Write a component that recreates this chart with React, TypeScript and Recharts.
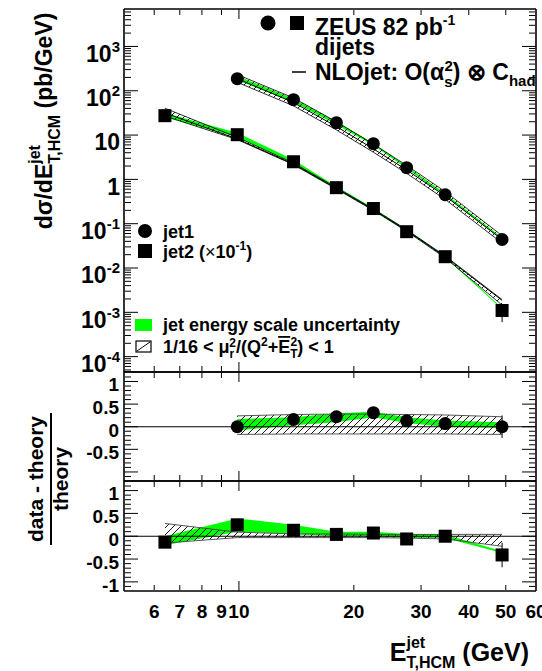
import React from 'react';
import { ComposedChart, XAxis, YAxis, Area, Line, Scatter, ErrorBar, ReferenceLine } from 'recharts';

const FONT = '"Liberation Sans", Arial, Helvetica, sans-serif';
const GREEN = '#00ff00';

// bin centres in E_T,HCM (GeV)
const etJet2 = [6.4, 9.9, 13.9, 18, 22.5, 27.5, 34.7, 48.9];
const etJet1 = [9.9, 13.9, 18, 22.5, 27.5, 34.7, 48.9];

// dsigma/dE_T (pb/GeV), jet2 already multiplied by 1e-1
const xsJet1 = [187, 63, 19, 6.4, 1.84, 0.45, 0.044];
const xsJet2 = [27.4, 10.2, 2.5, 0.65, 0.22, 0.066, 0.018, 0.0011];
const xsJet2ErrLo = [0, 0, 0, 0, 0, 0, 0, 0.0005];
const xsJet2ErrHi = [0, 0, 0, 0, 0, 0, 0, 0.0004];

// (data - theory) / theory
const ratioJet1 = [0.0, 0.16, 0.22, 0.31, 0.13, 0.07, 0.0];
const ratioJet1Err = [0, 0, 0, 0, 0, 0, 0.25];
const ratioJet2 = [-0.13, 0.25, 0.13, 0.04, 0.07, -0.06, 0.0, -0.41];
const ratioJet2Err = [0, 0, 0, 0, 0, 0.12, 0, 0.27];

// jet energy scale uncertainty band, relative to theory
const jesJet1Lo = [-0.08, 0.03, 0.1, 0.21, 0.08, 0.0, -0.03];
const jesJet1Hi = [0.17, 0.21, 0.3, 0.33, 0.21, 0.14, 0.1];
const jesJet2Lo = [-0.2, 0.1, 0.05, 0.0, 0.0, -0.04, -0.04, -0.37];
const jesJet2Hi = [0.0, 0.39, 0.25, 0.1, 0.1, 0.05, 0.04, -0.33];

// renormalisation scale variation band, relative to theory
const scaleJet1Lo = [-0.17, -0.16, -0.16, -0.16, -0.16, -0.16, -0.17];
const scaleJet1Hi = [0.24, 0.27, 0.28, 0.28, 0.27, 0.26, 0.22];
const scaleJet2Lo = [-0.15, -0.03, -0.03, -0.03, -0.03, -0.04, -0.06, -0.22];
const scaleJet2Hi = [0.28, 0.09, 0.05, 0.05, 0.04, 0.04, 0.04, 0.04];

// axes
const X_DOMAIN = [5, 60];
const TOP_Y = [4.5e-5, 7000];
const RATIO_Y = [-1.2, 1.21];
const xMajorTicks = [10];
const xMinorTicks = [6, 7, 8, 9, 20, 30, 40, 50];
const xLabelTicks = [6, 7, 8, 9, 10, 20, 30, 40, 50, 60];
const logMajorTicks = [1e-4, 1e-3, 1e-2, 1e-1, 1, 10, 100, 1000];
const ratioMajorTicks = [-1, -0.5, 0, 0.5, 1];
const ratioLabelsMid = [-0.5, 0, 0.5, 1];
const ratioLabelsBot = [-1, -0.5, 0, 0.5, 1];

const logMinorTicks: number[] = [];
for (let d = -5; d <= 3; d++) {
  for (let m = 2; m <= 9; m++) {
    const v = m * Math.pow(10, d);
    if (v > TOP_Y[0] && v < TOP_Y[1]) logMinorTicks.push(v);
  }
}
const ratioMinorTicks: number[] = [];
for (let i = -11; i <= 11; i++) {
  if (i % 5 !== 0) ratioMinorTicks.push(i / 10);
}

// rows for the charts
const topRows = etJet2.map((e, i) => {
  const t2 = xsJet2[i] / (1 + ratioJet2[i]);
  const row: any = {
    e,
    t2,
    scale2: [t2 * (1 + scaleJet2Lo[i]), t2 * (1 + scaleJet2Hi[i])],
    jes2: [t2 * (1 + jesJet2Lo[i]), t2 * (1 + jesJet2Hi[i])],
  };
  const j = etJet1.indexOf(e);
  if (j >= 0) {
    const t1 = xsJet1[j] / (1 + ratioJet1[j]);
    row.t1 = t1;
    row.scale1 = [t1 * (1 + scaleJet1Lo[j]), t1 * (1 + scaleJet1Hi[j])];
    row.jes1 = [t1 * (1 + jesJet1Lo[j]), t1 * (1 + jesJet1Hi[j])];
  }
  return row;
});
const jet1Pts = etJet1.map((e, i) => ({ e, v: xsJet1[i] }));
const jet2Pts = etJet2.map((e, i) => ({ e, v: xsJet2[i], err: [xsJet2ErrLo[i], xsJet2ErrHi[i]] }));

const midRows = etJet1.map((e, i) => ({
  e,
  r: ratioJet1[i],
  err: ratioJet1Err[i],
  scale: [scaleJet1Lo[i], scaleJet1Hi[i]],
  jes: [jesJet1Lo[i], jesJet1Hi[i]],
}));
const botRows = etJet2.map((e, i) => ({
  e,
  r: ratioJet2[i],
  err: ratioJet2Err[i],
  scale: [scaleJet2Lo[i], scaleJet2Hi[i]],
  jes: [jesJet2Lo[i], jesJet2Hi[i]],
}));

const renderCircle = (p: any) => <circle cx={p.cx} cy={p.cy} r={6.5} fill="#000" />;
const renderSquare = (p: any) => <rect x={p.cx - 6.5} y={p.cy - 6.5} width={13} height={13} fill="#000" />;

const NoTick = () => <g />;

const LogTick = (p: any) => {
  const k = Math.round(Math.log10(p.payload.value));
  return (
    <text x={p.x} y={p.y + 7} dy="0.36em" textAnchor="end" fontSize={23} fontWeight="bold" fontFamily={FONT} fill="#000">
      {k === 0 ? '1' : k === 1 ? '10' : (
        <>
          10<tspan dy={-10} fontSize={15}>{k}</tspan>
        </>
      )}
    </text>
  );
};

const RatioTick = (p: any) => (
  <text x={p.x} y={p.y + 3} dy="0.36em" textAnchor="end" fontSize={19} fontWeight="bold" fontFamily={FONT} fill="#000">
    {p.payload.value}
  </text>
);

const XTick = (p: any) => (
  <text x={p.x} y={p.y + 20} dy="0.36em" textAnchor="middle" fontSize={19} fontWeight="bold" fontFamily={FONT} fill="#000">
    {p.payload.value}
  </text>
);

// frame: inward ticks on all four sides
function frameAxes(yDomain: number[], yScale: 'log' | 'linear', yMajor: number[], yMinor: number[]) {
  const tl = { stroke: '#000', strokeWidth: 1 };
  const fr = { stroke: '#000', strokeWidth: 1.6 };
  const xs: any = { type: 'number', scale: 'log', domain: X_DOMAIN, allowDataOverflow: true, dataKey: 'e', mirror: true, height: 1, tick: NoTick, interval: 0, tickLine: tl };
  const ys: any = { type: 'number', scale: yScale, domain: yDomain, allowDataOverflow: true, mirror: true, width: 1, tick: NoTick, interval: 0, tickLine: tl };
  return [
    <XAxis key="xb" xAxisId="x" orientation="bottom" {...xs} ticks={xMajorTicks} tickSize={10} axisLine={fr} />,
    <XAxis key="xbm" xAxisId="xbm" orientation="bottom" {...xs} ticks={xMinorTicks} tickSize={5} axisLine={false} />,
    <XAxis key="xt" xAxisId="xt" orientation="top" {...xs} ticks={xMajorTicks} tickSize={10} axisLine={fr} />,
    <XAxis key="xtm" xAxisId="xtm" orientation="top" {...xs} ticks={xMinorTicks} tickSize={5} axisLine={false} />,
    <YAxis key="yl" yAxisId="yl" orientation="left" {...ys} ticks={yMajor} tickSize={14} axisLine={fr} />,
    <YAxis key="ylm" yAxisId="ylm" orientation="left" {...ys} ticks={yMinor} tickSize={6} axisLine={false} />,
    <YAxis key="yr" yAxisId="yr" orientation="right" {...ys} ticks={yMajor} tickSize={14} axisLine={fr} />,
    <YAxis key="yrm" yAxisId="yrm" orientation="right" {...ys} ticks={yMinor} tickSize={6} axisLine={false} />,
  ];
}

function TopPanel() {
  return (
    <ComposedChart width={542} height={377} data={topRows} margin={{ top: 9, right: 6, bottom: 5, left: 0 }}>
      {frameAxes(TOP_Y, 'log', logMajorTicks, logMinorTicks)}
      <YAxis yAxisId="y" type="number" scale="log" domain={TOP_Y} allowDataOverflow width={124} ticks={logMajorTicks} interval={0}
        tickLine={false} axisLine={false} tickSize={0} tickMargin={4} tick={LogTick} />
      <Area xAxisId="x" yAxisId="y" type="linear" dataKey="jes1" stroke="none" fill={GREEN} fillOpacity={1} isAnimationActive={false} />
      <Area xAxisId="x" yAxisId="y" type="linear" dataKey="scale1" stroke="#000" strokeWidth={0.8} fill="url(#hatch)" fillOpacity={1} isAnimationActive={false} />
      <Line xAxisId="x" yAxisId="y" type="linear" dataKey="t1" stroke="#000" strokeWidth={1} dot={false} isAnimationActive={false} />
      <Area xAxisId="x" yAxisId="y" type="linear" dataKey="jes2" stroke="none" fill={GREEN} fillOpacity={1} isAnimationActive={false} />
      <Area xAxisId="x" yAxisId="y" type="linear" dataKey="scale2" stroke="#000" strokeWidth={0.8} fill="url(#hatch)" fillOpacity={1} isAnimationActive={false} />
      <Line xAxisId="x" yAxisId="y" type="linear" dataKey="t2" stroke="#000" strokeWidth={1} dot={false} isAnimationActive={false} />
      <Scatter xAxisId="x" yAxisId="y" data={jet1Pts} dataKey="v" shape={renderCircle} isAnimationActive={false} />
      <Scatter xAxisId="x" yAxisId="y" data={jet2Pts} dataKey="v" shape={renderSquare} isAnimationActive={false}>
        <ErrorBar dataKey="err" direction="y" width={0} stroke="#000" strokeWidth={1} />
      </Scatter>
    </ComposedChart>
  );
}

function RatioPanel({ rows, labels, square, withXLabels }: { rows: any[]; labels: number[]; square: boolean; withXLabels: boolean }) {
  return (
    <ComposedChart width={542} height={withXLabels ? 155 : 119} data={rows} margin={{ top: 5, right: 6, bottom: withXLabels ? 0 : 5, left: 0 }}>
      {frameAxes(RATIO_Y, 'linear', ratioMajorTicks, ratioMinorTicks)}
      {withXLabels && (
        <XAxis xAxisId="xl" type="number" scale="log" domain={X_DOMAIN} allowDataOverflow dataKey="e" orientation="bottom" height={40}
          ticks={xLabelTicks} interval={0} tickLine={false} axisLine={false} tickSize={0} tickMargin={0} tick={XTick} />
      )}
      <YAxis yAxisId="y" type="number" domain={RATIO_Y} allowDataOverflow width={124} ticks={labels} interval={0}
        tickLine={false} axisLine={false} tickSize={0} tickMargin={5} tick={RatioTick} />
      <Area xAxisId="x" yAxisId="y" type="linear" dataKey="jes" stroke="none" fill={GREEN} fillOpacity={1} isAnimationActive={false} />
      <Area xAxisId="x" yAxisId="y" type="linear" dataKey="scale" stroke="#444" strokeWidth={0.9} fill="url(#hatch)" fillOpacity={1} isAnimationActive={false} />
      <ReferenceLine xAxisId="x" yAxisId="y" y={0} stroke="#000" strokeWidth={1.2} />
      <Scatter xAxisId="x" yAxisId="y" dataKey="r" shape={square ? renderSquare : renderCircle} isAnimationActive={false}>
        <ErrorBar dataKey="err" direction="y" width={0} stroke="#000" strokeWidth={1} />
      </Scatter>
    </ComposedChart>
  );
}

export default function App() {
  return (
    <div style={{ position: 'absolute', left: 0, top: 0, width: 542, height: 671, background: '#fff', overflow: 'hidden', fontFamily: FONT }}>
      <svg width={0} height={0} style={{ position: 'absolute' }}>
        <defs>
          <pattern id="hatch" patternUnits="userSpaceOnUse" width={7} height={7}>
            <path d="M0,7 L7,0 M-1,1 L1,-1 M6,8 L8,6" stroke="#000" strokeWidth={0.9} />
          </pattern>
        </defs>
      </svg>
      <div style={{ position: 'absolute', left: 0, top: 0 }}>
        <TopPanel />
      </div>
      <div style={{ position: 'absolute', left: 0, top: 367 }}>
        <RatioPanel rows={midRows} labels={ratioLabelsMid} square={false} withXLabels={false} />
      </div>
      <div style={{ position: 'absolute', left: 0, top: 476 }}>
        <RatioPanel rows={botRows} labels={ratioLabelsBot} square withXLabels />
      </div>
      <svg width={542} height={671} style={{ position: 'absolute', left: 0, top: 0, pointerEvents: 'none' }} fontFamily={FONT} fontWeight="bold" fill="#000">
        {/* top legend */}
        <circle cx={268} cy={23} r={7.5} />
        <rect x={290} y={16} width={14} height={14} />
        <text x={315} y={35} fontSize={23}>
          ZEUS 82 pb<tspan dy={-10} fontSize={14}>-1</tspan>
        </text>
        <text x={315} y={55} fontSize={23}>dijets</text>
        <line x1={292} x2={306} y1={72} y2={72} stroke="#000" strokeWidth={1.5} />
        <text x={315} y={80} fontSize={23}>
          NLOjet: O(α<tspan dy={7} fontSize={15}>s</tspan>
          <tspan dx={-8} dy={-16} fontSize={15}>2</tspan>
          <tspan dy={9}>) ⊗ C</tspan>
          <tspan dy={6} fontSize={15}>had</tspan>
        </text>
        {/* jet legend */}
        <circle cx={145} cy={231} r={7} />
        <text x={163} y={238} fontSize={18}>jet1</text>
        <rect x={138} y={244} width={14} height={14} />
        <text x={163} y={258} fontSize={18}>
          jet2 (<tspan fontWeight="normal">×</tspan>10<tspan dy={-8} fontSize={12}>-1</tspan>
          <tspan dy={8}>)</tspan>
        </text>
        {/* band legend */}
        <rect x={135} y={319} width={17} height={12} fill={GREEN} />
        <text x={163} y={331} fontSize={18}>jet energy scale uncertainty</text>
        <rect x={136} y={341} width={15} height={11} fill="none" stroke="#000" strokeWidth={1.2} />
        <line x1={137} y1={351} x2={150} y2={342} stroke="#000" strokeWidth={1} />
        <text x={163} y={353} fontSize={18}>
          1/16 {'<'} μ<tspan dy={5} fontSize={12}>r</tspan>
          <tspan dx={-5} dy={-11} fontSize={12}>2</tspan>
          <tspan dy={6}>/(Q</tspan>
          <tspan dy={-7} fontSize={12}>2</tspan>
          <tspan dy={7}>+</tspan>
          <tspan style={{ textDecoration: 'overline' }}>E</tspan>
          <tspan dy={5} fontSize={12}>T</tspan>
          <tspan dx={-7} dy={-12} fontSize={12}>2</tspan>
          <tspan dy={7}>) {'<'} 1</tspan>
        </text>
        {/* y titles */}
        <text transform="translate(52,121) rotate(-90)" textAnchor="middle" fontSize={23}>
          dσ/dE<tspan dy={-12} fontSize={16}>jet</tspan>
          <tspan dx={-18.7} dy={20} fontSize={16}>T,HCM</tspan>
          <tspan dy={-8}> (pb/GeV)</tspan>
        </text>
        <text transform="translate(43,479) rotate(-90)" textAnchor="middle" fontSize={21}>data - theory</text>
        <line x1={51} x2={51} y1={413} y2={545} stroke="#000" strokeWidth={2} />
        <text transform="translate(68,479) rotate(-90)" textAnchor="middle" fontSize={21}>theory</text>
        {/* x title */}
        <text x={529} y={661} textAnchor="end" fontSize={25}>
          E<tspan dy={-13} fontSize={16}>jet</tspan>
          <tspan dx={-18.7} dy={20} fontSize={16}>T,HCM</tspan>
          <tspan dy={-7}> (GeV)</tspan>
        </text>
      </svg>
    </div>
  );
}
